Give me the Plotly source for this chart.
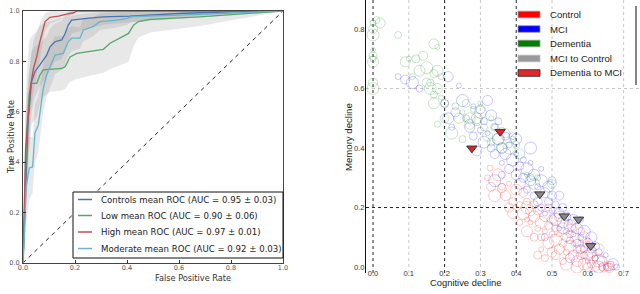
import plotly.graph_objects as go

W, H = 640, 294
def PX(x): return x / W
def PY(y): return 1 - y / H

# ---------------- ROC data (left panel) ----------------
controls_fpr = [0, 0.005, 0.01, 0.02, 0.033, 0.046, 0.065, 0.091, 0.104, 0.123, 0.149, 0.162, 0.174, 0.187, 0.245, 0.308, 0.41, 0.6, 0.8, 1.0]
controls_tpr = [0, 0.15, 0.35, 0.57, 0.72, 0.76, 0.786, 0.825, 0.858, 0.878, 0.885, 0.911, 0.944, 0.964, 0.971, 0.977, 0.98, 0.99, 0.997, 1.0]
controls_lo = [0, 0.05, 0.2, 0.42, 0.6, 0.66, 0.7, 0.74, 0.77, 0.8, 0.81, 0.84, 0.88, 0.91, 0.93, 0.945, 0.955, 0.975, 0.99, 1]
controls_hi = [0, 0.3, 0.5, 0.72, 0.84, 0.86, 0.87, 0.9, 0.93, 0.95, 0.96, 0.98, 1, 1, 1, 1, 1, 1, 1, 1]

low_fpr = [0, 0.005, 0.014, 0.024, 0.033, 0.053, 0.065, 0.078, 0.104, 0.149, 0.162, 0.181, 0.207, 0.245, 0.309, 0.335, 0.386, 0.406, 0.425, 0.444, 0.489, 0.68, 1.0]
low_tpr = [0, 0.2, 0.514, 0.673, 0.713, 0.713, 0.746, 0.766, 0.768, 0.772, 0.779, 0.818, 0.832, 0.838, 0.848, 0.872, 0.898, 0.911, 0.944, 0.958, 0.967, 0.977, 1.0]
low_lo = [0, 0.05, 0.25, 0.45, 0.55, 0.58, 0.63, 0.66, 0.68, 0.685, 0.69, 0.72, 0.73, 0.74, 0.755, 0.77, 0.79, 0.8, 0.86, 0.895, 0.915, 0.94, 1.0]
low_hi = [0, 0.4, 0.75, 0.88, 0.9, 0.92, 0.94, 0.95, 0.96, 0.97, 0.975, 0.98, 0.985, 0.99, 0.995, 1, 1, 1, 1, 1, 1, 1, 1]

high_fpr = [0, 0.005, 0.01, 0.02, 0.03, 0.04, 0.053, 0.063, 0.072, 0.085, 0.104, 0.136, 0.168, 0.194, 0.207, 1.0]
high_tpr = [0, 0.25, 0.45, 0.58, 0.71, 0.77, 0.82, 0.87, 0.91, 0.958, 0.975, 0.98, 0.988, 0.993, 1.0, 1.0]
high_lo = [0, 0.15, 0.3, 0.45, 0.6, 0.68, 0.74, 0.8, 0.85, 0.92, 0.95, 0.96, 0.975, 0.985, 1.0, 1.0]
high_hi = [0, 0.4, 0.6, 0.72, 0.82, 0.88, 0.92, 0.95, 0.97, 0.99, 1, 1, 1, 1, 1, 1]

moderate_fpr = [0, 0.005, 0.012, 0.024, 0.037, 0.046, 0.059, 0.065, 0.072, 0.078, 0.091, 0.11, 0.123, 0.155, 0.174, 0.187, 0.219, 0.232, 0.27, 0.296, 0.36, 0.4, 0.418, 0.6, 0.81, 1.0]
moderate_tpr = [0, 0.1, 0.3, 0.377, 0.381, 0.516, 0.548, 0.6, 0.65, 0.693, 0.746, 0.792, 0.825, 0.832, 0.878, 0.892, 0.892, 0.925, 0.938, 0.958, 0.964, 0.971, 0.978, 0.984, 0.993, 1.0]
moderate_lo = [0, 0.02, 0.15, 0.25, 0.28, 0.4, 0.44, 0.5, 0.55, 0.6, 0.66, 0.71, 0.75, 0.77, 0.82, 0.84, 0.85, 0.88, 0.9, 0.925, 0.935, 0.945, 0.955, 0.97, 0.985, 1]
moderate_hi = [0, 0.2, 0.45, 0.5, 0.5, 0.63, 0.66, 0.7, 0.75, 0.79, 0.83, 0.87, 0.9, 0.9, 0.93, 0.94, 0.935, 0.97, 0.975, 0.99, 0.995, 0.997, 1, 1, 1, 1]

roc_labels = ["Controls mean ROC (AUC = 0.95 \u00b1 0.03)",
              "Low mean ROC (AUC = 0.90 \u00b1 0.06)",
              "High mean ROC (AUC = 0.97 \u00b1 0.01)",
              "Moderate mean ROC (AUC = 0.92 \u00b1 0.03)"]

# ---------------- Scatter data (right panel) ----------------
dementia_pts = [(0.0,0.82),(0.0,0.80),(0.0,0.78),(0.01,0.83),(0.02,0.82),(0.0,0.73),(0.0,0.71),(0.0,0.69),(0.0,0.70),(0.0,0.62),
                (0.0,0.60),(0.07,0.78),(0.09,0.69),(0.10,0.70),(0.12,0.70),(0.13,0.66),(0.11,0.64),(0.14,0.71),(0.15,0.67),(0.16,0.62),
                (0.17,0.75),(0.18,0.74),(0.17,0.65),(0.18,0.66),(0.19,0.64),(0.15,0.62),(0.16,0.60),(0.17,0.58),(0.18,0.60),(0.19,0.57),
                (0.20,0.55),(0.17,0.55),(0.18,0.48),(0.20,0.50),(0.22,0.45),(0.23,0.54),(0.24,0.50),(0.25,0.52),(0.26,0.55),(0.27,0.50),
                (0.28,0.53),(0.29,0.49),(0.30,0.52),(0.31,0.47),(0.32,0.44),(0.33,0.50),(0.34,0.47),(0.35,0.43),(0.36,0.46),(0.37,0.45),
                (0.38,0.40),(0.40,0.41),(0.41,0.38),(0.43,0.31),(0.44,0.30),(0.45,0.28),(0.46,0.30),(0.50,0.28),(0.43,0.20),(0.25,0.43),
                (0.27,0.48),(0.30,0.55),(0.33,0.42),(0.36,0.40),(0.39,0.43)]

mci_pts = [(0.07,0.64),(0.09,0.63),(0.11,0.62),(0.13,0.60),(0.21,0.64),(0.24,0.61),(0.20,0.55),(0.21,0.50),(0.22,0.47),(0.23,0.52),
           (0.25,0.56),(0.26,0.50),(0.27,0.47),(0.28,0.54),(0.28,0.44),(0.29,0.50),(0.30,0.46),(0.30,0.53),(0.31,0.42),(0.31,0.49),
           (0.32,0.56),(0.32,0.45),(0.33,0.40),(0.33,0.51),(0.34,0.47),(0.34,0.38),(0.35,0.43),(0.35,0.49),(0.36,0.40),(0.36,0.35),
           (0.37,0.44),(0.37,0.38),(0.38,0.41),(0.38,0.33),(0.39,0.36),(0.39,0.44),(0.40,0.31),(0.40,0.38),(0.41,0.34),(0.41,0.28),
           (0.42,0.36),(0.42,0.30),(0.43,0.33),(0.43,0.26),(0.44,0.29),(0.44,0.35),(0.45,0.24),(0.45,0.31),(0.46,0.27),(0.46,0.22),
           (0.47,0.29),(0.47,0.20),(0.48,0.25),(0.48,0.18),(0.49,0.22),(0.49,0.27),(0.50,0.19),(0.50,0.24),(0.51,0.16),(0.51,0.21),
           (0.52,0.18),(0.52,0.13),(0.53,0.20),(0.53,0.15),(0.54,0.12),(0.54,0.17),(0.55,0.14),(0.55,0.09),(0.56,0.16),(0.56,0.11),
           (0.57,0.08),(0.57,0.13),(0.58,0.10),(0.58,0.06),(0.59,0.12),(0.59,0.04),(0.60,0.08),(0.60,0.02),(0.61,0.06),(0.61,0.10),
           (0.62,0.03),(0.62,0.07),(0.63,0.00),(0.63,0.05),(0.64,0.02),(0.65,0.04),(0.66,0.00),(0.67,0.01),(0.68,0.00),(0.55,0.03),
           (0.34,0.29),(0.36,0.31),(0.29,0.39),(0.47,0.33),(0.50,0.29),(0.40,0.43),(0.58,0.16),(0.52,0.24),(0.44,0.40),(0.48,0.10)]

control_pts = [(0.32,0.30),(0.33,0.27),(0.35,0.31),(0.36,0.27),(0.37,0.24),(0.38,0.28),(0.39,0.22),(0.40,0.26),(0.41,0.21),(0.42,0.25),
               (0.42,0.18),(0.43,0.22),(0.44,0.19),(0.44,0.15),(0.45,0.21),(0.45,0.17),(0.46,0.13),(0.46,0.19),(0.47,0.15),(0.47,0.10),
               (0.48,0.17),(0.48,0.12),(0.49,0.14),(0.49,0.08),(0.50,0.11),(0.50,0.16),(0.51,0.09),(0.51,0.13),(0.52,0.06),(0.52,0.11),
               (0.53,0.08),(0.53,0.13),(0.54,0.05),(0.54,0.10),(0.55,0.07),(0.55,0.11),(0.56,0.04),(0.56,0.08),(0.57,0.06),(0.57,0.02),
               (0.58,0.08),(0.58,0.04),(0.59,0.01),(0.59,0.06),(0.60,0.04),(0.60,0.09),(0.61,0.01),(0.61,0.05),(0.62,0.03),(0.62,0.00),
               (0.63,0.02),(0.64,0.00),(0.645,0.00),(0.65,0.00),(0.655,0.00),(0.66,0.00),(0.665,0.01),(0.60,0.00),(0.57,0.00),(0.53,0.02),
               (0.50,0.05),(0.47,0.06),(0.45,0.10),(0.43,0.12),(0.41,0.15),(0.38,0.20),(0.34,0.24),(0.49,0.20),(0.52,0.17),(0.55,0.15),
               (0.58,0.12),(0.59,0.10),(0.56,0.13),(0.51,0.04),(0.54,0.01),(0.48,0.03),(0.39,0.18),(0.43,0.16),(0.46,0.04),(0.63,0.06),
               (0.327,0.333),(0.36,0.265)]

mci_to_control_x = [0.466, 0.534, 0.574, 0.608]
mci_to_control_y = [0.245, 0.171, 0.160, 0.071]
dementia_to_mci_x = [0.276, 0.355]
dementia_to_mci_y = [0.399, 0.455]

scatter_labels = ["Control", "MCI", "Dementia", "MCI to Control", "Dementia to MCI"]

# ---------------- Figure ----------------
fig = go.Figure()

roc_sets = [
    (controls_fpr, controls_tpr, controls_lo, controls_hi, "#4c72b0"),
    (low_fpr, low_tpr, low_lo, low_hi, "#55a868"),
    (high_fpr, high_tpr, high_lo, high_hi, "#c44e52"),
    (moderate_fpr, moderate_tpr, moderate_lo, moderate_hi, "#64b5cd"),
]
for fpr, tpr, lo, hi, col in roc_sets:
    fig.add_trace(go.Scatter(x=list(fpr) + list(fpr)[::-1], y=list(hi) + list(lo)[::-1],
                             fill="toself", fillcolor="rgba(128,128,128,0.18)", line=dict(width=0),
                             mode="lines", hoverinfo="skip", showlegend=False, xaxis="x", yaxis="y"))
fig.add_trace(go.Scatter(x=[0, 1], y=[0, 1], mode="lines", line=dict(color="#222", width=1, dash="4px,4px"),
                         showlegend=False, xaxis="x", yaxis="y"))
for (fpr, tpr, lo, hi, col), lab in zip(roc_sets, roc_labels):
    fig.add_trace(go.Scatter(x=fpr, y=tpr, mode="lines", line=dict(color=col, width=1.3),
                             name=lab, showlegend=False, xaxis="x", yaxis="y"))

size_cycle = [6, 9, 12, 7, 10, 5, 8, 11]
groups = [(mci_pts, "rgba(0,0,255,0.45)", "MCI"),
          (dementia_pts, "rgba(0,128,0,0.45)", "Dementia"),
          (control_pts, "rgba(255,0,0,0.45)", "Control")]
for pts, col, name in groups:
    xs = [p[0] for p in pts]
    ys = [p[1] for p in pts]
    sz = [size_cycle[i % len(size_cycle)] for i in range(len(pts))]
    fig.add_trace(go.Scatter(x=xs, y=ys, mode="markers", name=name, showlegend=False,
                             marker=dict(symbol="circle-open", size=sz, color=col, line=dict(width=0.7, color=col)),
                             xaxis="x2", yaxis="y2"))
fig.add_trace(go.Scatter(x=mci_to_control_x, y=mci_to_control_y, mode="markers", name="MCI to Control", showlegend=False,
                         marker=dict(symbol="triangle-down", size=9, color="#888888", line=dict(width=1, color="#333")),
                         xaxis="x2", yaxis="y2"))
fig.add_trace(go.Scatter(x=dementia_to_mci_x, y=dementia_to_mci_y, mode="markers", name="Dementia to MCI", showlegend=False,
                         marker=dict(symbol="triangle-down", size=9, color="#e8202a", line=dict(width=1, color="#333")),
                         xaxis="x2", yaxis="y2"))

shapes = []
# right panel grid lines
for v in [0.1, 0.3, 0.5, 0.7]:
    shapes.append(dict(type="line", xref="x2", yref="y2 domain", x0=v, x1=v, y0=0, y1=1,
                       line=dict(color="#c8c8c8", width=1, dash="dot"), layer="below"))
for v in [0.6]:
    shapes.append(dict(type="line", xref="x2 domain", yref="y2", x0=0, x1=1, y0=v, y1=v,
                       line=dict(color="#c8c8c8", width=1, dash="dot"), layer="below"))
for v in [0.0, 0.2, 0.4]:
    shapes.append(dict(type="line", xref="x2", yref="y2 domain", x0=v, x1=v, y0=0, y1=1,
                       line=dict(color="#222", width=1, dash="dot"), layer="below"))
shapes.append(dict(type="line", xref="x2 domain", yref="y2", x0=0, x1=1, y0=0.2, y1=0.2,
                   line=dict(color="#222", width=1, dash="dot"), layer="below"))

# left legend box
shapes.append(dict(type="rect", xref="paper", yref="paper", x0=PX(73), x1=PX(283), y0=PY(258), y1=PY(192),
                   line=dict(color="#111", width=1), fillcolor="white", layer="above"))
annotations = []
rows = [199.5, 215.5, 232, 248.5]
for (fpr, tpr, lo, hi, col), lab, ry in zip(roc_sets, roc_labels, rows):
    shapes.append(dict(type="line", xref="paper", yref="paper", x0=PX(78), x1=PX(92), y0=PY(ry), y1=PY(ry),
                       line=dict(color=col, width=1.5), layer="above"))
    annotations.append(dict(x=PX(99), y=PY(ry), xref="paper", yref="paper", text=lab, showarrow=False,
                            xanchor="left", yanchor="middle", font=dict(family="DejaVu Sans", size=8.6, color="#222")))

# right legend
rrows = [14.5, 29, 43.5, 58.5, 73]
rcols = [("#ff0000", "#999"), ("#0000ff", "#999"), ("#008000", "#999"), ("#999999", "#bbb"), ("#e02a2a", "#222")]
for lab, (fc, lc), ry in zip(scatter_labels, rcols, rrows):
    shapes.append(dict(type="rect", xref="paper", yref="paper", x0=PX(518), x1=PX(540), y0=PY(ry + 3.3), y1=PY(ry - 3.3),
                       line=dict(color=lc, width=0.8), fillcolor=fc, layer="above"))
    annotations.append(dict(x=PX(548), y=PY(ry), xref="paper", yref="paper", text=lab, showarrow=False,
                            xanchor="left", yanchor="middle", font=dict(family="Liberation Sans", size=9.6, color="#222")))
shapes.append(dict(type="line", xref="paper", yref="paper", x0=PX(636), x1=PX(636), y0=PY(6), y1=PY(85),
                   line=dict(color="#333", width=1.2), layer="above"))

# axis titles
annotations.append(dict(x=PX(153), y=PY(284.5), xref="paper", yref="paper", text="False Positive Rate", showarrow=False,
                        font=dict(family="DejaVu Sans", size=8.2, color="#333")))
annotations.append(dict(x=PX(4), y=PY(137), xref="paper", yref="paper", text="True Positive Rate", showarrow=False,
                        textangle=-90, font=dict(family="DejaVu Sans", size=8.2, color="#333")))
annotations.append(dict(x=PX(503), y=PY(289.5), xref="paper", yref="paper", text="Cognitive decline", showarrow=False,
                        font=dict(family="Liberation Sans", size=9.4, color="#222")))
annotations.append(dict(x=PX(348), y=PY(137), xref="paper", yref="paper", text="Memory decline", showarrow=False,
                        textangle=-90, font=dict(family="Liberation Sans", size=9.6, color="#222")))

left_ticks = [0.0, 0.2, 0.4, 0.6, 0.8, 1.0]
right_xticks = [0.0, 0.1, 0.2, 0.3, 0.4, 0.5, 0.6, 0.7]
right_yticks = [0.0, 0.2, 0.4, 0.6, 0.8]

fig.update_layout(
    template="none",
    width=W, height=H, margin=dict(l=0, r=0, t=0, b=0, pad=0),
    paper_bgcolor="white", plot_bgcolor="white",
    shapes=shapes, annotations=annotations, showlegend=False,
    xaxis=dict(domain=[PX(23), PX(283)], range=[0, 1], tickvals=left_ticks, ticktext=["%.1f" % v for v in left_ticks],
               ticks="inside", ticklen=3, tickcolor="#333", showline=True, mirror=True, linecolor="#444", linewidth=1,
               showgrid=False, zeroline=False, automargin=False, ticklabelstandoff=-2,
               tickfont=dict(family="DejaVu Sans", size=6.5, color="#555"), anchor="y"),
    yaxis=dict(domain=[PY(263), PY(11)], range=[0, 1], tickvals=left_ticks, ticktext=["%.1f" % v for v in left_ticks],
               ticks="inside", ticklen=3, tickcolor="#333", showline=True, mirror=True, linecolor="#444", linewidth=1,
               showgrid=False, zeroline=False, automargin=False, ticklabelstandoff=1,
               tickfont=dict(family="DejaVu Sans", size=6.5, color="#555"), anchor="x"),
    xaxis2=dict(domain=[PX(366), PX(639)], range=[-0.0196, 0.743], tickvals=right_xticks,
                ticktext=["%.1f" % v for v in right_xticks], ticks="", showline=False, showgrid=False, zeroline=False,
                automargin=False, ticklabelstandoff=-6,
                tickfont=dict(family="Liberation Sans", size=7.6, color="#333"), anchor="y2"),
    yaxis2=dict(domain=[PY(273), 1.0], range=[-0.020, 0.8975], tickvals=right_yticks,
                ticktext=["%.1f" % v for v in right_yticks], ticks="", showline=True, linecolor="#111", linewidth=1,
                showgrid=False, zeroline=False, automargin=False, ticklabelstandoff=-1,
                tickfont=dict(family="Liberation Sans", size=7.6, color="#333"), anchor="x2"),
)

fig.write_html("out.html", config={"displayModeBar": False},
               post_script="document.body.style.margin='0';document.body.style.padding='0';document.body.style.overflow='hidden';")
